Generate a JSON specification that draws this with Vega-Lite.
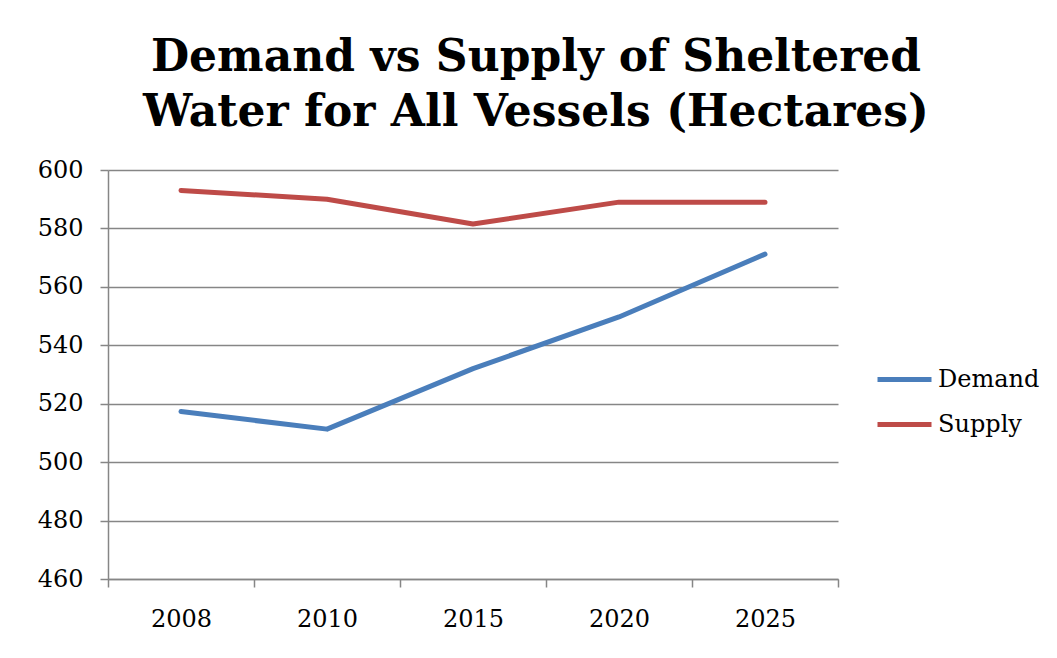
{
  "$schema": "https://vega.github.io/schema/vega-lite/v6.json",
  "width": 730,
  "height": 409,
  "autosize": {"type": "none"},
  "padding": {"left": 108, "top": 170, "right": 219, "bottom": 79},
  "background": "white",
  "title": {
    "text": ["Demand vs Supply of Sheltered", "Water for All Vessels (Hectares)"],
    "font": "DejaVu Serif",
    "fontSize": 44,
    "fontWeight": "bold",
    "color": "black",
    "lineHeight": 55,
    "anchor": "middle",
    "frame": "group",
    "dx": 63,
    "offset": 23
  },
  "data": {
    "values": [
      {"year": "2008", "series": "Demand", "value": 517.3},
      {"year": "2010", "series": "Demand", "value": 511.3},
      {"year": "2015", "series": "Demand", "value": 532.0},
      {"year": "2020", "series": "Demand", "value": 549.7},
      {"year": "2025", "series": "Demand", "value": 571.2},
      {"year": "2008", "series": "Supply", "value": 593.0},
      {"year": "2010", "series": "Supply", "value": 590.0},
      {"year": "2015", "series": "Supply", "value": 581.5},
      {"year": "2020", "series": "Supply", "value": 589.0},
      {"year": "2025", "series": "Supply", "value": 589.0}
    ]
  },
  "mark": {"type": "line", "strokeWidth": 5, "strokeCap": "round", "strokeJoin": "round"},
  "encoding": {
    "x": {
      "field": "year",
      "type": "ordinal",
      "bandPosition": 0.5,
      "scale": {"type": "band", "paddingInner": 0, "paddingOuter": 0},
      "axis": {
        "title": null,
        "labelAngle": 0,
        "labelFont": "DejaVu Serif",
        "labelFontSize": 24,
        "labelColor": "black",
        "labelPadding": 20,
        "tickBand": "extent",
        "tickSize": 8,
        "tickColor": "#868686",
        "tickWidth": 1.5,
        "domainColor": "#868686",
        "domainWidth": 1.5,
        "grid": false
      }
    },
    "y": {
      "field": "value",
      "type": "quantitative",
      "scale": {"domain": [460, 600], "nice": false, "zero": false},
      "axis": {
        "title": null,
        "values": [460, 480, 500, 520, 540, 560, 580, 600],
        "labelFont": "DejaVu Serif",
        "labelFontSize": 24,
        "labelColor": "black",
        "labelPadding": 17,
        "tickSize": 8,
        "tickColor": "#868686",
        "tickWidth": 1.5,
        "domainColor": "#868686",
        "domainWidth": 1.5,
        "grid": true,
        "gridColor": "#868686",
        "gridWidth": 1.5
      }
    },
    "color": {
      "field": "series",
      "type": "nominal",
      "scale": {"domain": ["Demand", "Supply"], "range": ["#4A7EBB", "#BE4B48"]},
      "legend": {
        "title": null,
        "orient": "none",
        "legendX": 767,
        "legendY": 180,
        "symbolType": "stroke",
        "symbolSize": 2916,
        "symbolStrokeWidth": 5,
        "labelFont": "DejaVu Serif",
        "labelFontSize": 24,
        "labelColor": "black",
        "labelOffset": 4,
        "rowPadding": 3
      }
    }
  },
  "config": {"view": {"stroke": null}}
}
